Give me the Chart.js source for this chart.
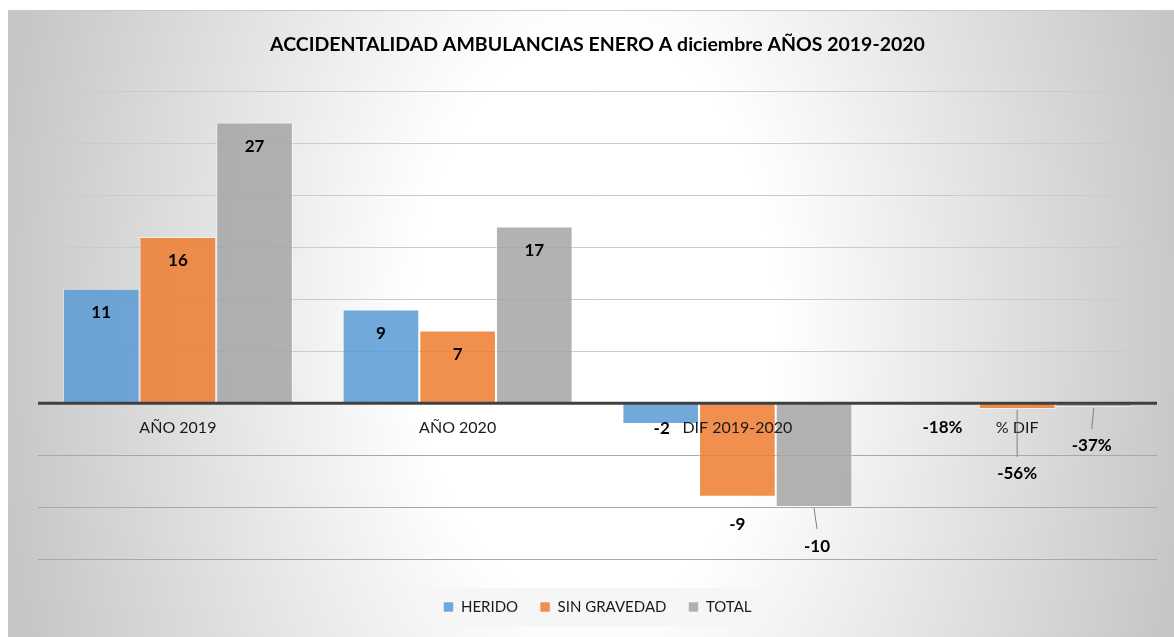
<!DOCTYPE html>
<html>
<head>
<meta charset="utf-8">
<script src="https://cdn.jsdelivr.net/npm/chart.js@4.4.1/dist/chart.umd.min.js"></script>
<style>
html, body { margin: 0; padding: 0; background: #fff; }
#wrap { width: 1174px; height: 637px; }
</style>
</head>
<body>
<div id="wrap"><canvas id="chart" width="1174" height="637"></canvas></div>
<script>
// Data
const categories = ['AÑO 2019', 'AÑO 2020', 'DIF 2019-2020', '% DIF'];
const herido = [11, 9, -2, -0.18];
const sinGravedad = [16, 7, -9, -0.56];
const total = [27, 17, -10, -0.37];
const yTicks = { min: -15, max: 30, step: 5 };

const FONT = "Lato, 'Open Sans', sans-serif";
const COLORS = {
    blue: 'rgba(91, 155, 213, 0.86)',
    orange: 'rgba(237, 125, 49, 0.86)',
    gray: 'rgba(165, 165, 165, 0.86)',
    text: '#1a1a1a',
    axis: '#404040'
};

// Manually moved labels (like in the original sheet): dx, dy from bar end
const LABEL_NUDGE = {
    '0-2': { dx: 1, dy: 5 },
    '1-2': { dx: 0, dy: 28 },
    '2-2': { dx: 3, dy: 39, leader: true },
    '0-3': { dx: 2, dy: 23 },
    '1-3': { dx: 0, dy: 65, leader: true },
    '2-3': { dx: -2, dy: 39, leader: true }
};

// Background: radial grey gradient with border
const backgroundPlugin = {
    id: 'bg',
    beforeDraw(chart) {
        const ctx = chart.ctx;
        const w = chart.width, h = chart.height;
        ctx.save();
        ctx.fillStyle = '#ffffff';
        ctx.fillRect(0, 0, w, h);
        const cx = 595, cy = 320, sy = 1.6;
        ctx.translate(cx, cy);
        ctx.scale(1, sy);
        const g = ctx.createRadialGradient(0, 0, 0, 0, 0, 600);
        g.addColorStop(0, '#ffffff');
        g.addColorStop(0.3, '#ffffff');
        g.addColorStop(1, '#c6c6c6');
        ctx.fillStyle = g;
        ctx.fillRect(8 - cx, (10 - cy) / sy, w, h / sy);
        ctx.restore();
        ctx.save();
        ctx.strokeStyle = '#c8c8c8';
        ctx.lineWidth = 1;
        ctx.strokeRect(8.5, 10.5, w, h);
        // legend box fill
        ctx.fillStyle = 'rgba(245, 245, 245, 0.9)';
        ctx.fillRect(427, 588, 342, 39);
        ctx.restore();
    }
};

// Zero line, category labels and data labels
const labelsPlugin = {
    id: 'labels',
    afterDatasetsDraw(chart) {
        const ctx = chart.ctx;
        const area = chart.chartArea;
        const xs = chart.scales.x, ys = chart.scales.y;
        const y0 = ys.getPixelForValue(0);

        ctx.save();
        ctx.strokeStyle = COLORS.axis;
        ctx.lineWidth = 3;
        ctx.beginPath();
        ctx.moveTo(area.left, y0);
        ctx.lineTo(area.right, y0);
        ctx.stroke();

        // category labels under the zero line
        ctx.fillStyle = COLORS.text;
        ctx.font = '16px ' + FONT;
        ctx.textAlign = 'center';
        ctx.textBaseline = 'middle';
        categories.forEach((c, i) => {
            ctx.fillText(c, xs.getPixelForValue(i), y0 + 25);
        });

        // data labels
        ctx.font = 'bold 17px ' + FONT;
        chart.data.datasets.forEach((ds, di) => {
            const meta = chart.getDatasetMeta(di);
            meta.data.forEach((bar, i) => {
                const v = ds.data[i];
                const txt = i === 3 ? Math.round(v * 100) + '%' : String(v);
                let x = bar.x, y;
                const nudge = LABEL_NUDGE[di + '-' + i];
                if (v >= 0) {
                    y = bar.y + 24;
                } else {
                    y = bar.y + (nudge ? nudge.dy : 20);
                    x = bar.x + (nudge ? nudge.dx : 0);
                    if (nudge && nudge.leader) {
                        ctx.strokeStyle = '#808080';
                        ctx.lineWidth = 1;
                        ctx.beginPath();
                        ctx.moveTo(bar.x, bar.y + 1);
                        ctx.lineTo(x, y - 17);
                        ctx.stroke();
                    }
                }
                ctx.fillStyle = '#000';
                ctx.fillText(txt, x, y);
            });
        });
        ctx.restore();
    }
};

const ctx = document.getElementById('chart').getContext('2d');
new Chart(ctx, {
    type: 'bar',
    data: {
        labels: categories,
        datasets: [
            { label: 'HERIDO', data: herido, backgroundColor: COLORS.blue },
            { label: 'SIN GRAVEDAD', data: sinGravedad, backgroundColor: COLORS.orange },
            { label: 'TOTAL', data: total, backgroundColor: COLORS.gray }
        ].map(d => Object.assign(d, {
            borderColor: 'rgba(255, 255, 255, 0.5)',
            borderWidth: 1,
            categoryPercentage: 0.822,
            barPercentage: 1
        }))
    },
    options: {
        responsive: false,
        animation: false,
        devicePixelRatio: 1,
        layout: { padding: { top: 10, left: 38, right: 17, bottom: 12.5 } },
        scales: {
            x: { display: false },
            y: {
                min: yTicks.min,
                max: yTicks.max,
                ticks: { display: false, stepSize: yTicks.step },
                border: { display: false },
                grid: {
                    drawTicks: false,
                    lineWidth: 1,
                    color: (c) => {
                        const v = c.tick.value;
                        if (v === 0) return 'rgba(0,0,0,0)';
                        return v > 0 ? '#cbcbcb' : '#a8a8a8';
                    }
                }
            }
        },
        plugins: {
            title: {
                display: true,
                text: 'ACCIDENTALIDAD AMBULANCIAS ENERO A diciembre AÑOS 2019-2020',
                color: '#000',
                font: { family: FONT, size: 19.5, weight: 'bold', lineHeight: 1.2 },
                padding: { top: 23, bottom: 35 }
            },
            legend: {
                position: 'bottom',
                title: { display: true, text: '', font: { size: 10, lineHeight: 1 }, padding: { top: 0, bottom: 8.5 } },
                labels: {
                    color: COLORS.text,
                    font: { family: FONT, size: 15 },
                    boxWidth: 10,
                    boxHeight: 10,
                    padding: 22
                }
            },
            tooltip: { enabled: false }
        }
    },
    plugins: [backgroundPlugin, labelsPlugin]
});
</script>
</body>
</html>
